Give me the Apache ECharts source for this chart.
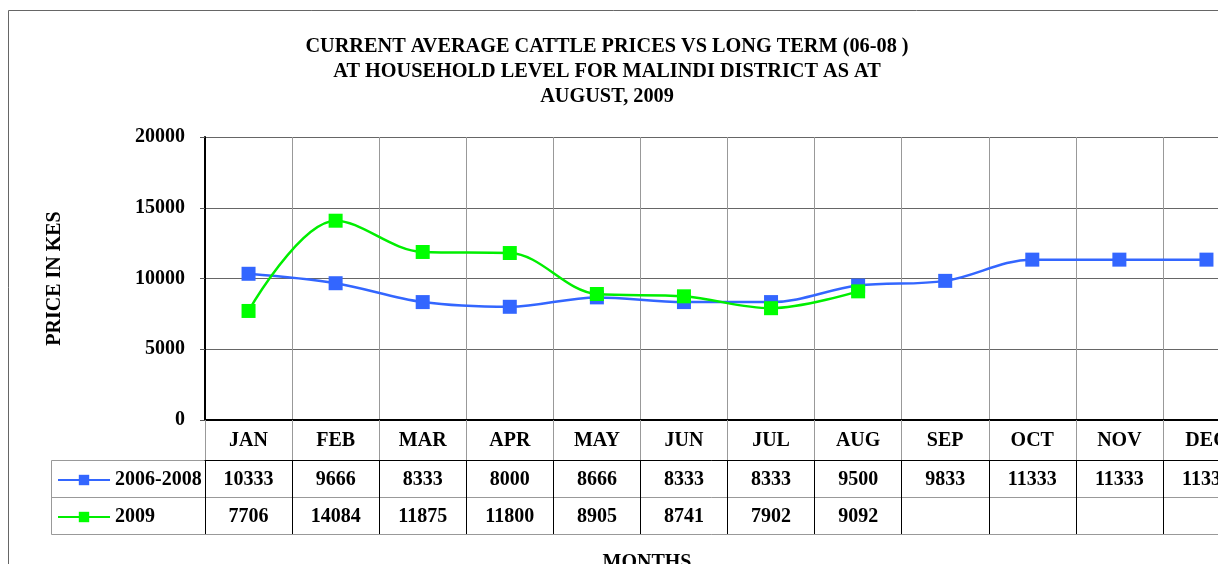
<!DOCTYPE html>
<html><head><meta charset="utf-8">
<script src="https://cdn.jsdelivr.net/npm/echarts@6/dist/echarts.min.js"></script>
<style>html,body{margin:0;padding:0;background:#fff}#c{width:1218px;height:564px}</style>
</head><body><div id="c"></div>
<script>
const months = ['JAN','FEB','MAR','APR','MAY','JUN','JUL','AUG','SEP','OCT','NOV','DEC'];
const longTerm = [10333, 9666, 8333, 8000, 8666, 8333, 8333, 9500, 9833, 11333, 11333, 11333];
const y2009 = [7706, 14084, 11875, 11800, 8905, 8741, 7902, 9092, null, null, null, null];
const seriesNames = ['2006-2008', '2009'];
const yTicks = [0, 5000, 10000, 15000, 20000];

const FONT = 'Liberation Serif';
const bold = {fontFamily: FONT, fontWeight: 'bold', fontSize: 20, color: '#000'};
const fmtVals = arr => arr.map(v => v == null ? '' : String(v));

const chart = echarts.init(document.getElementById('c'), null, {renderer: 'canvas'});
chart.setOption({
  animation: false,
  backgroundColor: '#fff',
  title: [
    {text: 'CURRENT AVERAGE CATTLE PRICES VS LONG TERM (06-08 )\nAT HOUSEHOLD LEVEL FOR MALINDI DISTRICT AS AT\nAUGUST, 2009',
     left: 602, top: 29, textAlign: 'center',
     textStyle: Object.assign({}, bold, {fontSize: 20.3, lineHeight: 25})},
    {text: 'MONTHS', left: 642, top: 548, textAlign: 'center', textStyle: bold}
  ],
  grid: {left: 205, top: 137, width: 1045, height: 283, containLabel: false, outerBoundsMode: 'none'},
  legend: {
    orient: 'vertical', left: 57, top: 470, padding: 0, itemWidth: 52, itemHeight: 13, itemGap: 17,
    data: seriesNames, textStyle: bold, selectedMode: false
  },
  xAxis: [
    {type: 'category', data: months, boundaryGap: true, position: 'bottom',
     axisLine: {show: true, lineStyle: {color: '#000', width: 2}},
     axisTick: {show: true, interval: 0, length: 40, lineStyle: {color: '#999'}},
     axisLabel: {interval: 0, margin: 11, ...bold},
     splitLine: {show: true, interval: 0, lineStyle: {color: '#999', width: 1}}},
    {type: 'category', data: fmtVals(longTerm), boundaryGap: true, position: 'bottom', offset: 40,
     axisLine: {show: true, onZero: false, lineStyle: {color: '#000', width: 1}},
     axisTick: {show: true, interval: 0, length: 37, lineStyle: {color: '#000'}},
     axisLabel: {interval: 0, margin: 10, ...bold},
     splitLine: {show: false}},
    {type: 'category', data: fmtVals(y2009), boundaryGap: true, position: 'bottom', offset: 77,
     axisLine: {show: true, onZero: false, lineStyle: {color: '#999', width: 1}},
     axisTick: {show: true, interval: 0, length: 37, lineStyle: {color: '#000'}},
     axisLabel: {interval: 0, margin: 10, ...bold},
     splitLine: {show: false}},
    {type: 'category', data: months, boundaryGap: true, position: 'bottom', offset: 114,
     axisLine: {show: true, onZero: false, lineStyle: {color: '#999', width: 1}},
     axisTick: {show: false}, axisLabel: {show: false}, splitLine: {show: false}}
  ],
  yAxis: {
    type: 'value', min: yTicks[0], max: yTicks[yTicks.length - 1], interval: 5000,
    name: 'PRICE IN KES', nameLocation: 'middle', nameGap: 140, nameTextStyle: bold,
    axisLine: {show: true, lineStyle: {color: '#000', width: 2}},
    axisTick: {show: true, length: 5, lineStyle: {color: '#555'}},
    axisLabel: {margin: 20, ...bold, formatter: v => String(v)},
    splitLine: {show: true, lineStyle: {color: '#666', width: 1}}
  },
  graphic: [
    {type: 'rect', shape: {x: 8.5, y: 10.5, width: 1400, height: 700},
     style: {fill: 'none', stroke: '#666', lineWidth: 1}, silent: true, z: -1},
    {type: 'rect', shape: {x: 51.5, y: 460.5, width: 154, height: 74},
     style: {fill: 'none', stroke: '#999', lineWidth: 1}, silent: true},
    {type: 'line', shape: {x1: 51, y1: 497.5, x2: 205, y2: 497.5},
     style: {stroke: '#999', lineWidth: 1}, silent: true}
  ],
  series: [
    {name: seriesNames[0], type: 'line', xAxisIndex: 0, data: longTerm, smooth: 0.35,
     symbol: 'rect', symbolSize: 14, color: '#3366FF',
     lineStyle: {width: 2.5, color: '#3366FF'}, itemStyle: {color: '#3366FF'}, z: 2},
    {name: seriesNames[1], type: 'line', xAxisIndex: 0, data: y2009, smooth: 0.35,
     symbol: 'rect', symbolSize: 14, color: '#00FF00', connectNulls: false,
     lineStyle: {width: 2.5, color: '#00EE00'}, itemStyle: {color: '#00FF00'}, z: 3}
  ]
});
</script></body></html>
